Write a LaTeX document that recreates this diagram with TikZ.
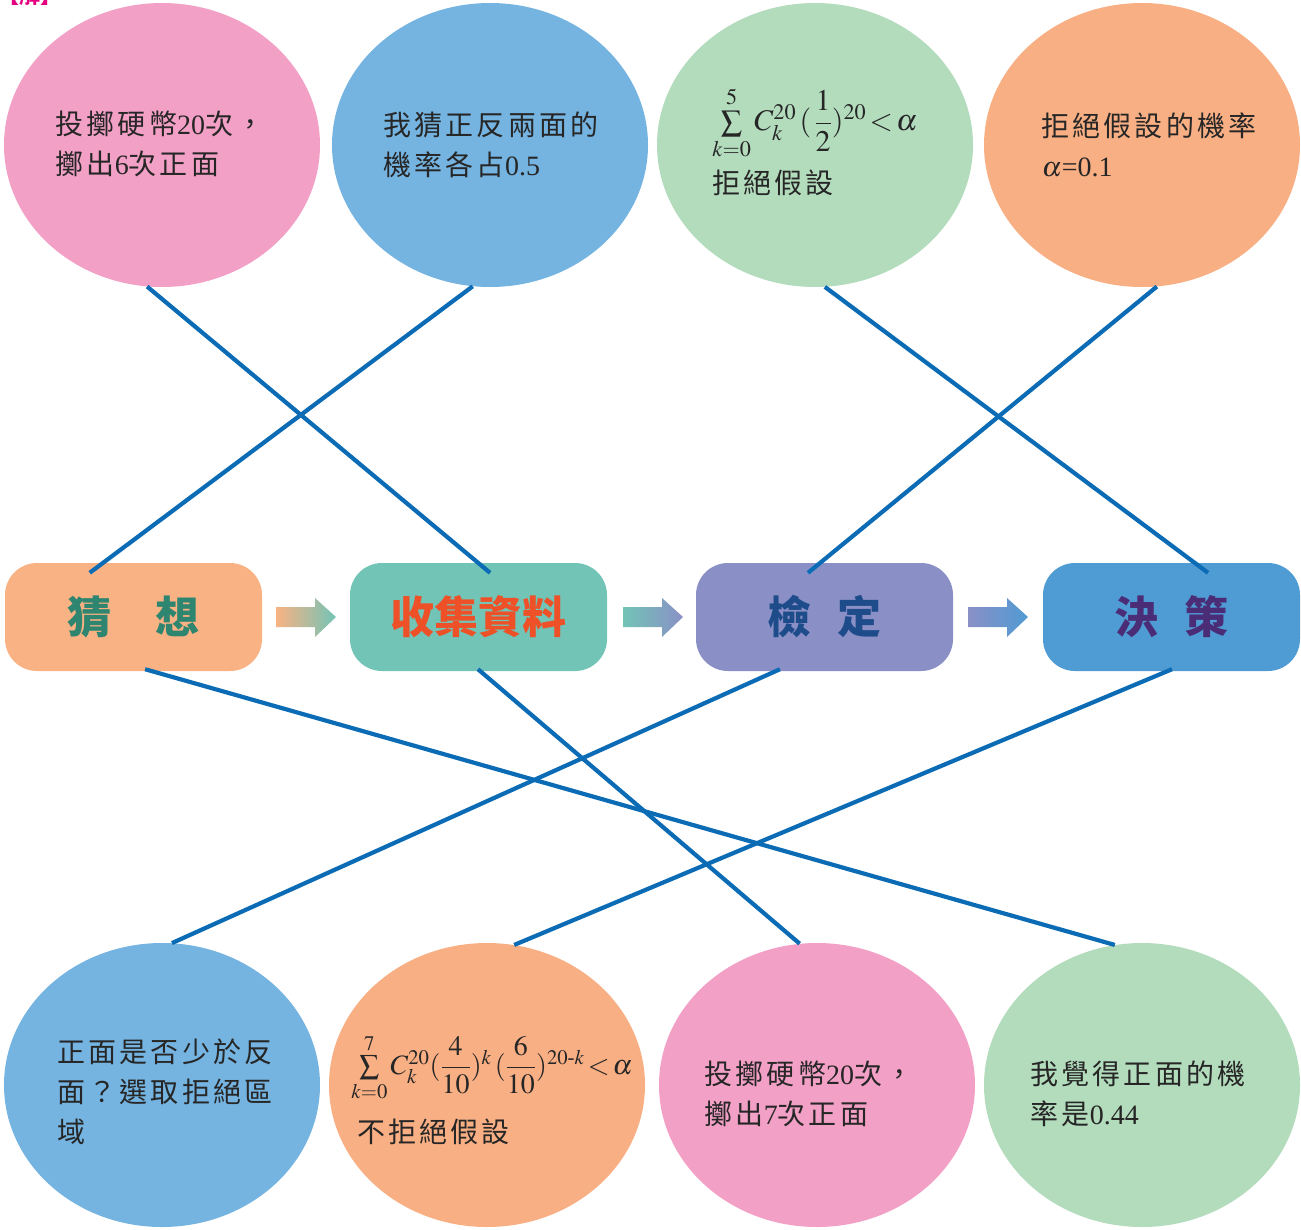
\documentclass[tikz,border=0pt]{standalone}
\usepackage{amsmath}
\usepackage{mathptmx}
\usepackage{fontspec}
\setmainfont{Liberation Serif}
\newfontfamily\cjk[LetterSpace=11]{Noto Sans CJK TC}
\newfontfamily\cjkb{Noto Sans CJK TC}
\usetikzlibrary{shapes.geometric,calc}
\definecolor{cpink}{HTML}{F3A0C6}
\definecolor{cblue}{HTML}{75B4E1}
\definecolor{cgreen}{HTML}{B3DCBD}
\definecolor{corange}{HTML}{F8AF84}
\definecolor{bxA}{HTML}{F9B283}
\definecolor{bxB}{HTML}{72C4B6}
\definecolor{bxC}{HTML}{8A90C6}
\definecolor{bxD}{HTML}{4F9BD3}
\definecolor{lnc}{HTML}{0B6CB5}
\definecolor{txA}{HTML}{2E8570}
\definecolor{txB}{HTML}{EE5128}
\definecolor{txC}{HTML}{1E4B8A}
\definecolor{txD}{HTML}{4B2D77}
\definecolor{mag}{HTML}{E4007F}
\newcommand\blockarrow[3]{%
  \shade[left color=#2, middle color=#3, right color=#3]
    (#1,607) -- ++(39,0) -- ++(0,-9) -- ++(21,19) -- ++(-21,20) -- ++(0,-10) -- ++(-39,0) -- cycle;}
\begin{document}
\begin{tikzpicture}[x=1pt,y=-1pt,
  ell/.style={ellipse, minimum width=316pt, minimum height=284pt, inner sep=0pt, draw=none},
  txt/.style={align=left, inner sep=0pt, font=\fontsize{28}{40}\selectfont, text=black!85},
  box/.style={rounded corners=32pt, minimum width=257pt, minimum height=108pt, inner sep=0pt,
              font=\cjkb\bfseries\fontsize{44}{50}\selectfont},
  conn/.style={draw=lnc, line width=4.2pt}]
\useasboundingbox (0,0) rectangle (1301,1229);
% heading (cut off)
\node[anchor=base west, inner sep=0pt, text=mag, font=\cjkb\bfseries\fontsize{21}{21}\selectfont] (hd) at (-2,3) {【解】};
% top ellipses
\node[ell, fill=cpink]   (t1) at (162,145) {};
\node[ell, fill=cblue]   (t2) at (490,145) {};
\node[ell, fill=cgreen]  (t3) at (815,145) {};
\node[ell, fill=corange] (t4) at (1142,145) {};
% bottom ellipses
\node[ell, fill=cblue]   (b1) at (162,1085) {};
\node[ell, fill=corange] (b2) at (487,1085) {};
\node[ell, fill=cpink]   (b3) at (817,1085) {};
\node[ell, fill=cgreen]  (b4) at (1142,1085) {};
% texts
\node[txt] (t1l) at (160,144) {{\cjk 投擲硬幣}20{\cjk 次，}\\{\cjk 擲出}6{\cjk 次正面}};
\node[txt] (t2l) at (491,145) {{\cjk 我猜正反兩面的}\\{\cjk 機率各占}0.5};
\node[txt] (t3l) at (815,141) {{\fontsize{30}{40}\selectfont$\textstyle\sum\limits_{k=0}^{5} C_k^{20}\,(\,\dfrac{1}{2})^{20}\!<\!\alpha$}\\[9pt]{\cjk 拒絕假設}};
\node[txt] (t4l) at (1149,145) {{\cjk 拒絕假設的機率}\\$\alpha$=0.1};
\node[txt] (b1l) at (165,1092) {{\cjk 正面是否少於反}\\{\cjk 面？選取拒絕區}\\{\cjk 域}};
\node[txt] (b2l) at (492,1089) {$\textstyle\sum\limits_{k=0}^{7} C_k^{20}(\dfrac{4}{10})^k\,(\dfrac{6}{10})^{20\text{-}k}\!<\!\alpha$\\[16pt]\hspace{6pt}{\cjk 不拒絕假設}};
\node[txt] (b3l) at (809,1094) {{\cjk 投擲硬幣}20{\cjk 次，}\\{\cjk 擲出}7{\cjk 次正面}};
\node[txt] (b4l) at (1138,1094) {{\cjk 我覺得正面的機}\\{\cjk 率是}0.44};
% boxes
\node[box, fill=bxA, text=txA] (g1) at (133.5,617) {猜　想};
\node[box, fill=bxB, text=txB] (g2) at (478.5,617) {收集資料};
\node[box, fill=bxC, text=txC] (g3) at (824.5,617) {檢\hspace{26pt}定};
\node[box, fill=bxD, text=txD] (g4) at (1171.5,617) {決\hspace{26pt}策};
% block arrows
\blockarrow{276}{bxA}{bxB}
\blockarrow{623}{bxB}{bxC}
\blockarrow{968}{bxC}{bxD}
% connectors
\draw[conn] (t1.264) -- ($(g2.north west)!0.545!(g2.north east)+(0,10)$);
\draw[conn] (t2.263) -- ($(g1.north west)!0.33!(g1.north east)+(0,10)$);
\draw[conn] (t3.274.5) -- ($(g4.north west)!0.642!(g4.north east)+(0,10)$);
\draw[conn] (t4.276) -- ($(g3.north west)!0.436!(g3.north east)+(0,10)$);
\draw[conn] ($(g1.south west)!0.545!(g1.south east)+(0,-2)$) -- (b4.101.7);
\draw[conn] ($(g2.south west)!0.498!(g2.south east)+(0,-2)$) -- (b3.97);
\draw[conn] ($(g3.south west)!0.327!(g3.south east)+(0,-2)$) -- (b1.86);
\draw[conn] ($(g4.south west)!0.502!(g4.south east)+(0,-2)$) -- (b2.79.5);
\end{tikzpicture}
\end{document}
